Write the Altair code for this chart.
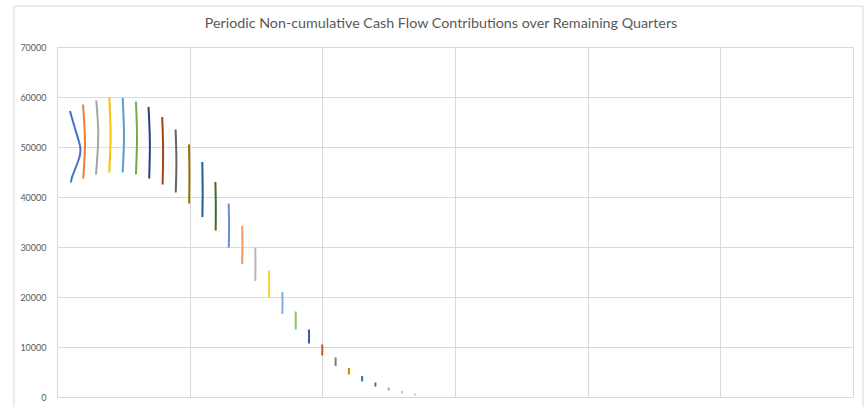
import altair as alt
import pandas as pd

TITLE = "Periodic Non-cumulative Cash Flow Contributions over Remaining Quarters"

# One series per remaining quarter (1..27)
series_names = [f"Quarter {i}" for i in range(1, 28)]

series_colors = [
    "#4472C4", "#ED7D31", "#A5A5A5", "#FFC000", "#5B9BD5", "#70AD47",
    "#264478", "#9E480E", "#636363", "#997300", "#255E91", "#43682B",
    "#698ED0", "#F1975A", "#B7B7B7", "#FFCD33", "#7CAFDD", "#8CC168",
    "#335AA1", "#C55A11", "#7C7C7C", "#BF9000", "#2E75B6", "#548235",
    "#8FAADC", "#F4B183", "#C9C9C9",
]

# First quarter: curved contribution path
q1_x = [0.98, 1.17, 1.39, 1.62, 1.76, 1.73, 1.54, 1.28, 1.09, 1.06]
q1_y = [57200, 55400, 53400, 51400, 49800, 48400, 46800, 45000, 43600, 42900]

# Quarters 2..27: start, middle and end of each contribution path
x_top = [1.96, 2.96, 3.94, 4.95, 5.95, 6.90, 7.93, 8.94, 9.95, 10.95, 11.94, 12.94,
         13.96, 14.94, 15.98, 16.98, 17.99, 18.99, 19.99, 21.0, 22.0, 23.0, 24.0,
         25.0, 26.0, 27.0]
x_mid = [2.11, 3.11, 4.04, 5.05, 6.03, 7.00, 8.00, 9.00, 9.98, 10.98, 11.97, 12.97,
         13.98, 14.96, 15.99, 17.0, 18.0, 19.0, 20.0, 21.0, 22.0, 23.0, 24.0,
         25.0, 26.0, 27.0]
x_bot = [1.98, 2.94, 3.94, 4.95, 5.95, 6.95, 7.96, 8.95, 9.96, 10.96, 11.96, 12.95,
         13.96, 14.94, 15.98, 16.98, 17.99, 18.99, 19.99, 21.0, 22.0, 23.0, 24.0,
         25.0, 26.0, 27.0]
y_top = [58500, 59300, 59900, 59800, 59100, 58000, 56000, 53500, 50500, 47000, 43000,
         38700, 34200, 29900, 25300, 21000, 17100, 13500, 10500, 7900, 5800, 4200,
         2900, 1900, 1200, 700]
y_mid = [51000, 52500, 52500, 52300, 52000, 51000, 49300, 47200, 44600, 41500, 38200,
         34300, 30400, 26600, 22600, 18800, 15300, 12100, 9400, 7050, 5150, 3650,
         2500, 1600, 950, 500]
y_bot = [43700, 44500, 44900, 44900, 44500, 43700, 42500, 40900, 38700, 36000, 33300,
         29900, 26600, 23200, 19900, 16600, 13500, 10700, 8300, 6200, 4500, 3100,
         2100, 1300, 700, 300]

y_ticks = [0, 10000, 20000, 30000, 40000, 50000, 60000, 70000]
x_grid = [0, 10, 20, 30, 40, 50, 60]

rows = []
for i, (xv, yv) in enumerate(zip(q1_x, q1_y)):
    rows.append({"series": series_names[0], "pt": i, "x": xv, "y": yv})
for k in range(len(x_top)):
    name = series_names[k + 1]
    pts = [(x_top[k], y_top[k]), (x_mid[k], y_mid[k]), (x_bot[k], y_bot[k])]
    for i, (xv, yv) in enumerate(pts):
        rows.append({"series": name, "pt": i, "x": xv, "y": yv})
df = pd.DataFrame(rows)

GRID = "#D9D9D9"
TEXT = "#595959"

lines = alt.Chart(df).mark_line(interpolate="catmull-rom", strokeWidth=2).encode(
    x=alt.X("x:Q",
            scale=alt.Scale(domain=[0, 60], nice=False, zero=False),
            axis=alt.Axis(values=x_grid, labels=False, ticks=False, domain=False,
                          grid=True, gridColor=GRID, gridWidth=1, title=None)),
    y=alt.Y("y:Q",
            scale=alt.Scale(domain=[0, 70000], nice=False),
            axis=alt.Axis(values=y_ticks, format="d", ticks=False, domain=False,
                          grid=True, gridColor=GRID, gridWidth=1, title=None,
                          labelFont="Lato", labelFontSize=9, labelColor=TEXT,
                          labelPadding=11)),
    color=alt.Color("series:N",
                    scale=alt.Scale(domain=series_names, range=series_colors),
                    legend=None),
    order=alt.Order("pt:Q"),
)

# Outer chart-area frame
frame = alt.Chart(pd.DataFrame({"f": [0]})).mark_rect(
    fill=None, stroke=GRID, strokeWidth=1
).encode(
    x=alt.value(-43), x2=alt.value(806), y=alt.value(-41), y2=alt.value(370)
)

# Chart title, centred on the chart area
title = alt.Chart(pd.DataFrame({"t": [TITLE]})).mark_text(
    font="Lato", fontSize=14.3, color=TEXT, align="center", baseline="middle"
).encode(
    text="t:N", x=alt.value(384), y=alt.value(-23)
)

chart = alt.layer(frame, lines, title).properties(
    width=796,
    height=350,
    autosize=alt.AutoSizeParams(type="none"),
    padding={"left": 57, "top": 47, "right": 12, "bottom": 10},
).configure_view(strokeWidth=0).configure(background="white")

chart.save("out.html", embed_options={"renderer": "svg", "actions": False})
